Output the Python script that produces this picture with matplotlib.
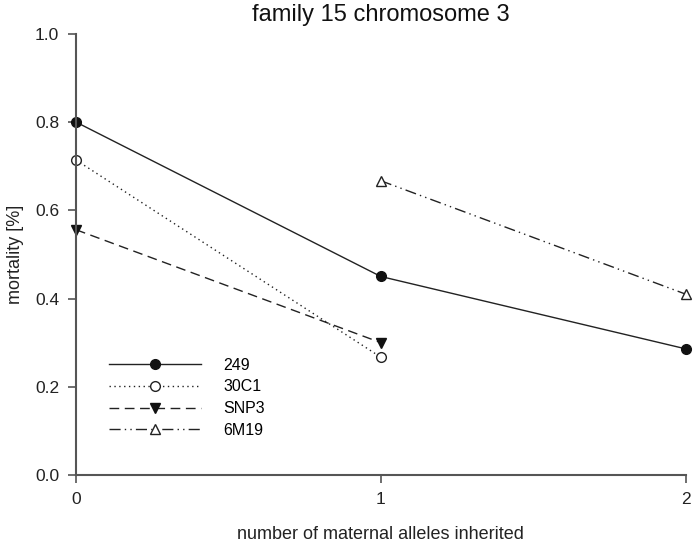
import matplotlib
matplotlib.use("Agg")
import matplotlib.pyplot as plt

x_249 = [0, 1, 2]
y_249 = [0.80, 0.45, 0.286]
x_30c1 = [0, 1]
y_30c1 = [0.714, 0.267]
x_snp3 = [0, 1]
y_snp3 = [0.556, 0.30]
x_6m19 = [1, 2]
y_6m19 = [0.667, 0.41]

gray = "#555555"
plt.rcParams["font.family"] = ["Liberation Sans", "DejaVu Sans"]

fig = plt.figure(figsize=(6.94, 5.46), dpi=100)
ax = fig.add_axes([0.1095, 0.13, 0.8785, 0.808])

ax.plot(x_249, y_249, color="#222222", lw=1, marker="o", ms=7,
        mfc="#111111", mec="#111111", clip_on=False, label="249")
ax.plot(x_30c1, y_30c1, color="#222222", lw=1, ls=(0, (1, 2.5)), marker="o", ms=7,
        mfc="white", mec="#222222", clip_on=False, label="30C1")
ax.plot(x_snp3, y_snp3, color="#222222", lw=1, ls=(0, (7, 4)), marker="v", ms=7,
        mfc="#111111", mec="#111111", clip_on=False, label="SNP3")
ax.plot(x_6m19, y_6m19, color="#222222", lw=1, ls=(0, (8, 3, 1, 3, 1, 3)), marker="^", ms=7,
        mfc="white", mec="#222222", clip_on=False, label="6M19")

ax.set_xlim(0, 2)
ax.set_ylim(0, 1.0)
ax.set_xticks([0, 1, 2])
ax.set_yticks([0.0, 0.2, 0.4, 0.6, 0.8, 1.0])
ax.set_yticklabels(["0.0", "0.2", "0.4", "0.6", "0.8", "1.0"])

for s in ["top", "right"]:
    ax.spines[s].set_visible(False)
for s in ["left", "bottom"]:
    ax.spines[s].set_color(gray)
    ax.spines[s].set_linewidth(1.5)
ax.tick_params(direction="out", length=6, width=1.2, color=gray, labelsize=12.5,
               labelcolor="#222222", pad=6)

ax.set_xlabel("number of maternal alleles inherited", fontsize=13, color="#222222", labelpad=14)
ax.set_ylabel("mortality [%]", fontsize=13, color="#222222", labelpad=8)
ax.set_title("family 15 chromosome 3", fontsize=17, color="#111111", pad=9)

ax.legend(loc="lower left", bbox_to_anchor=(0.035, 0.059), frameon=False, fontsize=11.5,
          handlelength=5.8, handletextpad=1.4, labelspacing=0.42, borderpad=0.2)

fig.savefig("out.png", dpi=100)
